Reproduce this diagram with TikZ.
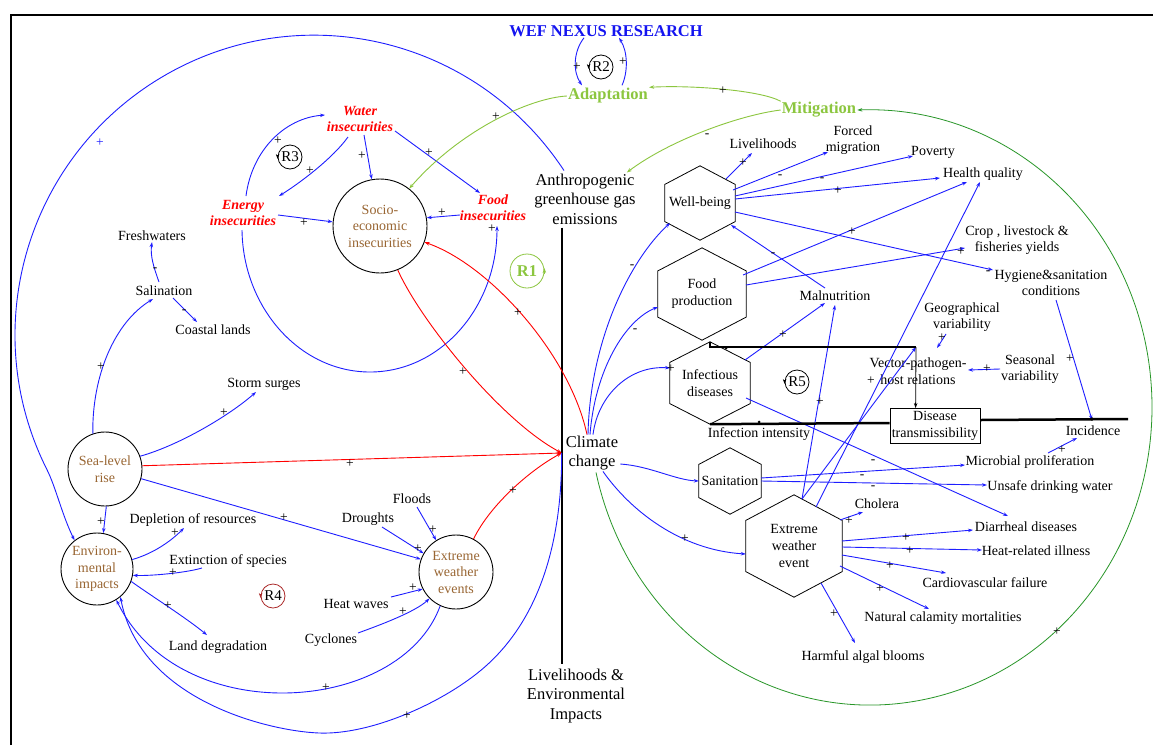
\documentclass[tikz,border=0pt]{standalone}
\usepackage{fontspec}
\setmainfont{Liberation Serif}
\usetikzlibrary{arrows.meta,calc}
\definecolor{ygreen}{RGB}{140,198,63}
\definecolor{dgreen}{RGB}{40,150,40}
\definecolor{brn}{RGB}{153,102,51}
\definecolor{lblue}{RGB}{30,30,255}
\definecolor{tblue}{RGB}{20,20,240}
\definecolor{loopred}{RGB}{170,40,40}
\newcommand{\hexo}[1]{\draw[line width=0.8] (#1.north) -- ($(#1.north east)!0.25!(#1.south east)$) -- ($(#1.north east)!0.75!(#1.south east)$) -- (#1.south) -- ($(#1.south west)!0.25!(#1.north west)$) -- ($(#1.south west)!0.75!(#1.north west)$) -- cycle;}
\tikzset{
 lbl/.style={font=\fontsize{14}{16.5}\selectfont, inner sep=1pt, align=center},
 big/.style={font=\fontsize{16.5}{19.5}\selectfont, inner sep=1pt, align=center},
 redit/.style={font=\fontsize{14}{16}\selectfont\bfseries\itshape, text=red, inner sep=1pt, align=center},
 grnlbl/.style={font=\fontsize{16.5}{19}\selectfont\bfseries, text=ygreen, inner sep=1pt},
 circn/.style={circle, draw, line width=0.9, inner sep=0, align=center, text=brn, font=\fontsize{14}{16.5}\selectfont},
 hexn/.style={rectangle, inner sep=0, align=center, font=\fontsize{14}{17}\selectfont},
 sgn/.style={font=\fontsize{13.5}{13.5}\selectfont, inner sep=0},
 loopn/.style={circle, draw, line width=0.8, inner sep=0, minimum size=24, font=\fontsize{15}{15}\selectfont},
 tip/.style={-{Stealth[length=5pt,width=3.5pt]}},
 bl/.style={draw=lblue, line width=0.9, tip},
 rd/.style={draw=red, line width=0.9, tip},
 gr/.style={draw=ygreen, line width=0.9, tip},
 dg/.style={draw=dgreen, line width=0.8, tip},
 thickblk/.style={draw=black, line width=2.5},
}
\begin{document}
\begin{tikzpicture}[x=1pt,y=-1pt]
\useasboundingbox (0,0) rectangle (1153,745);
\fill[white] (0,0) rectangle (1153,745);
\draw[line width=2.5] (11,745) -- (11,15) -- (1153,15);

% ---------- main nodes ----------
\node[font=\fontsize{16.5}{19}\selectfont\bfseries, text=tblue, inner sep=1pt] (title) at (606,31) {WEF NEXUS RESEARCH};
\node[grnlbl] (adapt) at (608,96) {Adaptation};
\node[grnlbl] (mitig) at (819,110) {Mitigation};
\node[big] (ghg) at (585,199) {Anthropogenic\\greenhouse gas\\emissions};
\node[big, inner sep=4pt] (cc) at (592,453) {Climate\\change};
\node[big] (livenv) at (576,696) {Livelihoods \&\\Environmental\\Impacts};

\node[redit] (water) at (360,119) {Water\\insecurities};
\node[redit] (energy) at (243,213) {Energy\\insecurities};
\node[redit] (food) at (493,208) {Food\\insecurities};
\node[circn, minimum size=94] (soc) at (380,226) {Socio-\\economic\\insecurities};
\node[circn, minimum size=74] (slr) at (105,469) {Sea-level\\rise};
\node[circn, minimum size=72] (env) at (97,569) {Environ-\\mental\\impacts};
\node[circn, minimum size=74] (exw) at (456,572) {Extreme\\weather\\events};

\node[lbl] (fresh) at (152,236) {Freshwaters};
\node[lbl] (salin) at (164,291) {Salination};
\node[lbl] (coastal) at (213,330) {Coastal lands};
\node[lbl] (storm) at (264,384) {Storm surges};
\node[lbl] (depl) at (193,520) {Depletion of resources};
\node[lbl] (extinct) at (228,561) {Extinction of species};
\node[lbl] (landdeg) at (218,647) {Land degradation};
\node[lbl] (floods) at (412,499) {Floods};
\node[lbl] (droughts) at (368,519) {Droughts};
\node[lbl] (heat) at (356,604) {Heat waves};
\node[lbl] (cyclones) at (331,640) {Cyclones};

% loops
\node[loopn, draw=ygreen, text=ygreen, minimum size=34, font=\fontsize{16.5}{16.5}\selectfont\bfseries] (r1) at (527,271) {R1};
\node[loopn] (r2) at (601,67) {R2};
\node[loopn] (r3) at (290,157) {R3};
\node[loopn, draw=loopred] (r4) at (273,596) {R4};
\node[loopn] (r5) at (797,382) {R5};
\draw[ygreen, line width=0.8, tip] ($(r1.east)+(0,3)$) -- ($(r1.east)+(0,-3)$);
\draw[tip, line width=0.6] ($(r2.west)+(0,-2)$) -- ($(r2.west)+(0,2)$);
\draw[tip, line width=0.6] ($(r3.west)+(0,-2)$) -- ($(r3.west)+(0,2)$);
\draw[tip, line width=0.6, loopred] ($(r4.west)+(0,-2)$) -- ($(r4.west)+(0,2)$);
\draw[tip, line width=0.6] ($(r5.west)+(0,-2)$) -- ($(r5.west)+(0,2)$);

% right side nodes
\node[hexn, minimum width=70, minimum height=74] (wb) at (700,203) {Well-being};
\node[hexn, minimum width=88, minimum height=92] (fp) at (702,294) {Food\\production};
\node[hexn, minimum width=80, minimum height=82] (inf) at (710,383) {Infectious\\diseases};
\node[hexn, minimum width=62, minimum height=66] (san) at (730,481) {Sanitation};
\node[hexn, minimum width=96, minimum height=102] (ewe) at (794,546) {Extreme\\weather\\event};
\hexo{wb}\hexo{fp}\hexo{inf}\hexo{san}\hexo{ewe}

\node[lbl] (livh) at (763,144) {Livelihoods};
\node[lbl] (forced) at (853,140) {Forced\\migration};
\node[lbl] (poverty) at (933,152) {Poverty};
\node[lbl] (health) at (983,174) {Health quality};
\node[lbl] (crop) at (1017,240) {Crop , livestock \&\\fisheries yields};
\node[lbl] (hygiene) at (1051,283) {Hygiene\&sanitation\\conditions};
\node[lbl] (malnut) at (835,296) {Malnutrition};
\node[lbl] (geo) at (962,317) {Geographical\\variability};
\node[lbl] (vector) at (918,371) {Vector-pathogen-\\host relations};
\node[lbl] (seasonal) at (1030,369) {Seasonal\\variability};
\node[lbl, draw, line width=0.8, minimum width=90, minimum height=35] (box) at (935,426) {Disease\\transmissibility};
\node[lbl] (infint) at (759,434) {Infection intensity};
\node[lbl] (incid) at (1093,431) {Incidence};
\node[lbl] (microb) at (1030,462) {Microbial proliferation};
\node[lbl] (unsafe) at (1050,487) {Unsafe drinking water};
\node[lbl] (cholera) at (877,504) {Cholera};
\node[lbl] (diarr) at (1026,527) {Diarrheal diseases};
\node[lbl] (heatrel) at (1036,551) {Heat-related illness};
\node[lbl] (cardio) at (985,583) {Cardiovascular failure};
\node[lbl] (natural) at (943,618) {Natural calamity mortalities};
\node[lbl] (harmful) at (863,657) {Harmful algal blooms};

% ---------- black axis ----------
\draw[thickblk] ($(ghg.south)+(-23,2)$) -- ($(livenv.north)+(-14,-4)$);

% ---------- left, top ----------
\draw[bl] ($(water)+(4,16)$) -- (soc.100);
\draw[bl] ($(water)+(-12,18)$) .. controls (333,158) and (300,183) .. ($(energy)+(36,-17)$);
\draw[bl] ($(energy)+(3,-17)$) .. controls (252,150) and (285,118) .. ($(water)+(-35,-4)$);
\draw[bl] ($(energy)+(35,2)$) -- (soc.175);
\draw[bl] ($(water)+(35,12)$) -- ($(food)+(-13,-15)$);
\draw[bl] ($(food)+(-33,7)$) -- (soc.10);
\draw[bl] ($(energy)+(-1,17)$) .. controls (243,308) and (300,372) .. (370,372) .. controls (440,372) and (497,308) .. ($(food)+(4,18)$);

% red
\draw[rd] ($(cc.north)+(-5,3)$) .. controls (570,355) and (490,265) .. (soc.-20);
\draw[rd] (soc.-68) .. controls (420,320) and (500,420) .. (cc.west);
\draw[rd] (slr.5) -- (cc.west);
\draw[rd] (exw.62) .. controls (490,505) and (530,470) .. (cc.west);

% big blue arc
\draw[bl] ($(ghg.north)+(-21,-2)$) .. controls (475.7,36.6) and (300.6,-3.9) .. (163.9,75.9) .. controls (27.2,155.7) and (-24.1,327.8) .. (46.8,469.3) .. controls (55.8,487) and (62,515) .. (env.128);

% left, middle
\draw[bl] (slr.109) .. controls (92,375) and (115,322) .. ($(salin)+(-11,8)$);
\draw[bl] ($(salin)+(-5,-9)$) .. controls (154,268) and (150,256) .. (fresh.south);
\draw[bl] ($(salin)+(9,7)$) -- ($(coastal)+(-16,-8)$);
\draw[bl] (slr.20) .. controls (180,445) and (230,415) .. ($(storm)+(-8,8)$);
\draw[bl] (slr.-88) -- (env.80);
\draw[bl] (slr.-15) -- (exw.160);
\draw[bl] (env.15) .. controls (155,553) and (172,540) .. ($(depl)+(-9,8)$);
\draw[bl] ($(extinct)+(-26,7)$) .. controls (185,573) and (150,576) .. (env.-10);
\draw[bl] (env.-20) .. controls (150,595) and (185,617) .. ($(landdeg)+(-11,-12)$);
\draw[bl] ($(floods)+(5,8)$) -- (exw.122);
\draw[bl] ($(droughts)+(14,8)$) -- (exw.150);
\draw[bl] ($(heat)+(35,-7)$) -- (exw.207);
\draw[bl] ($(cyclones)+(27,-7)$) .. controls (380,625) and (415,612) .. (exw.-135);
\draw[bl] (exw.-115) .. controls (400,715) and (180,730) .. (env.-58);
\draw[bl] (cc.west) .. controls (562,560) and (530,630) .. (480,671) .. controls (440,704) and (370,735) .. (319,733) .. controls (268,731) and (140,700) .. (env.-50);

% green
\draw[gr] (adapt.west) .. controls (530,98) and (460,130) .. (soc.52);
\draw[gr] (mitig.north west) .. controls (760,90) and (690,85) .. (adapt.north east);
\draw[gr] (mitig.west) .. controls (740,115) and (670,140) .. ($(ghg.north east)+(-10,0)$);
\draw[dg] ($(cc.south)+(4,-2)$) .. controls (629.3,627.7) and (769.3,726.5) .. (915.7,701.1) .. controls (1062.1,675.7) and (1164.8,534.6) .. (1150.7,378.6) .. controls (1136.6,222.6) and (1010.4,104.7) .. (mitig.east);

% R2 arcs
\draw[bl] ($(title.south)+(-22,0)$) .. controls (573,52) and (573,72) .. ($(adapt.north)+(-26,-2)$);
\draw[bl] ($(adapt.north)+(14,-2)$) .. controls (628,72) and (628,52) .. ($(title.south)+(13,0)$);

% ---------- right side ----------
\draw[bl] ($(cc.north)+(-4,3)$) .. controls (590,340) and (630,260) .. ($(wb)+(-30,20)$);
\draw[bl] ($(cc.north)+(-2,3)$) .. controls (595,370) and (625,320) .. ($(fp)+(-44,13)$);
\draw[bl] ($(cc.north)+(1,3)$) .. controls (598,395) and (630,365) .. ($(inf)+(-40,-15)$);
\draw[bl] ($(cc.east)+(-2,11)$) .. controls (650,466) and (675,480) .. (san.west);
\draw[bl] ($(cc.south)+(11,-3)$) .. controls (630,510) and (680,550) .. ($(ewe.west)+(0,8)$);

\draw[bl] ($(wb)+(26,-24)$) -- ($(livh)+(-11,9)$);
\draw[bl] ($(wb)+(33,-13)$) -- ($(forced)+(-25,12)$);
\draw[bl] ($(wb)+(35,-7)$) -- ($(poverty)+(-20,4)$);
\draw[bl] ($(wb)+(35,-4)$) -- ($(health)+(-43,4)$);
\draw[bl] ($(wb)+(35,9)$) -- ($(hygiene)+(-58,-13)$);
\draw[bl] ($(malnut)+(-10,-8)$) -- ($(wb)+(31,22)$);
\draw[bl] ($(fp)+(41,-19)$) -- ($(health)+(-16,8)$);
\draw[bl] ($(fp)+(44,-9)$) -- ($(crop)+(-52,8)$);
\draw[bl] ($(inf)+(35,-23)$) -- ($(malnut)+(-10,7)$);
\draw[bl] ($(inf)+(36,15)$) -- ($(diarr)+(-18,-11)$);
\draw[bl] ($(san)+(31,-3)$) -- ($(microb)+(-65,3)$);
\draw[bl] ($(san)+(31,0)$) -- ($(unsafe)+(-63,-2)$);
\draw[bl] ($(ewe)+(46,-26)$) -- ($(cholera)+(-14,8)$);
\draw[bl] ($(ewe)+(48,-5)$) -- ($(diarr)+(-53,3)$);
\draw[bl] ($(ewe)+(48,1)$) -- ($(heatrel)+(-54,-1)$);
\draw[bl] ($(ewe)+(48,9)$) -- ($(cardio)+(-39,-10)$);
\draw[bl] ($(ewe)+(46,20)$) -- ($(natural)+(-14,-9)$);
\draw[bl] ($(ewe)+(27,37)$) -- ($(harmful)+(-8,-14)$);
\draw[bl] ($(ewe)+(8,-47)$) -- ($(malnut)+(0,9)$);
\draw[bl] ($(ewe)+(8,-47)$) -- ($(vector)+(-2,-24)$);
\draw[bl] ($(ewe)+(22,-39)$) -- ($(health)+(-3,8)$);
\draw[bl] ($(geo)+(-16,17)$) -- ($(vector)+(19,-23)$);
\draw[bl] (seasonal.west) -- ($(vector)+(50,-1)$);
\draw[bl] ($(hygiene)+(5,17)$) -- ($(incid)+(-1,-11)$);
\draw[bl] ($(microb)+(18,-9)$) -- ($(incid)+(-16,7)$);

% R5 thick structure
\coordinate (vtop) at (916,347);
\coordinate (rend) at (1128,419);
\draw[thickblk] (inf.north) |- (vtop);
\draw[line width=0.8, tip] (vtop) -- ($(box.north west)+(26,0)$);
\draw[thickblk] (inf.south) -- ($(box.west)+(0,-3)$);
\draw[thickblk] ($(box.east)+(0,-6)$) -- (rend);
\fill (726,348) circle (1.5);
\fill (759,422) circle (1.5);
\fill (1092,419) circle (1.8);

% ---------- polarity signs ----------
\node[sgn] (s1) at (362,156) {+};
\node[sgn] (s2) at (310,171) {+};
\node[sgn] (s3) at (278,141) {+};
\node[sgn] (s4) at (304,223) {+};
\node[sgn] (s5) at (429,153) {+};
\node[sgn] (s6) at (442,213) {+};
\node[sgn] (s7) at (492,229) {+};
\node[sgn] (s8) at (518,313) {+};
\node[sgn] (s9) at (463,372) {+};
\node[sgn] (s10) at (350,464) {+};
\node[sgn] (s11) at (513,491) {+};
\node[sgn, text=lblue] (s12) at (100,143) {+};
\node[sgn] (s13) at (101,367) {+};
\node[sgn] (s14) at (155,270) {-};
\node[sgn] (s15) at (184,312) {-};
\node[sgn] (s16) at (224,413) {+};
\node[sgn] (s17) at (101,522) {+};
\node[sgn] (s18) at (284,518) {+};
\node[sgn] (s19) at (175,533) {+};
\node[sgn] (s20) at (173,573) {+};
\node[sgn] (s21) at (168,606) {+};
\node[sgn] (s22) at (433,530) {+};
\node[sgn] (s23) at (418,549) {+};
\node[sgn] (s24) at (413,588) {+};
\node[sgn] (s25) at (403,612) {+};
\node[sgn] (s26) at (326,688) {+};
\node[sgn] (s27) at (407,716) {+};
\node[sgn] (s28) at (496,117) {+};
\node[sgn] (s29) at (723,91) {+};
\node[sgn] (s30) at (577,67) {+};
\node[sgn] (s31) at (623,62) {+};
\node[sgn] (s32) at (707,136) {-};
\node[sgn] (s33) at (632,267) {-};
\node[sgn] (s34) at (635,331) {-};
\node[sgn] (s35) at (671,369) {+};
\node[sgn] (s36) at (685,539) {+};
\node[sgn] (s37) at (1057,632) {+};
\node[sgn] (s38) at (743,163) {+};
\node[sgn] (s39) at (780,177) {-};
\node[sgn] (s40) at (822,180) {-};
\node[sgn] (s41) at (838,191) {+};
\node[sgn] (s42) at (988,273) {-};
\node[sgn] (s43) at (773,255) {-};
\node[sgn] (s44) at (852,232) {+};
\node[sgn] (s45) at (961,252) {+};
\node[sgn] (s46) at (783,335) {+};
\node[sgn] (s47) at (873,462) {-};
\node[sgn] (s48) at (862,477) {-};
\node[sgn] (s49) at (873,488) {-};
\node[sgn] (s50) at (849,521) {+};
\node[sgn] (s51) at (906,538) {+};
\node[sgn] (s52) at (910,551) {+};
\node[sgn] (s53) at (890,566) {+};
\node[sgn] (s54) at (880,589) {+};
\node[sgn] (s55) at (834,614) {+};
\node[sgn] (s56) at (820,402) {+};
\node[sgn] (s57) at (871,381) {+};
\node[sgn] (s58) at (942,338) {+};
\node[sgn] (s59) at (987,369) {+};
\node[sgn] (s60) at (1070,359) {+};
\node[sgn] (s61) at (1062,450) {+};
\end{tikzpicture}
\end{document}
